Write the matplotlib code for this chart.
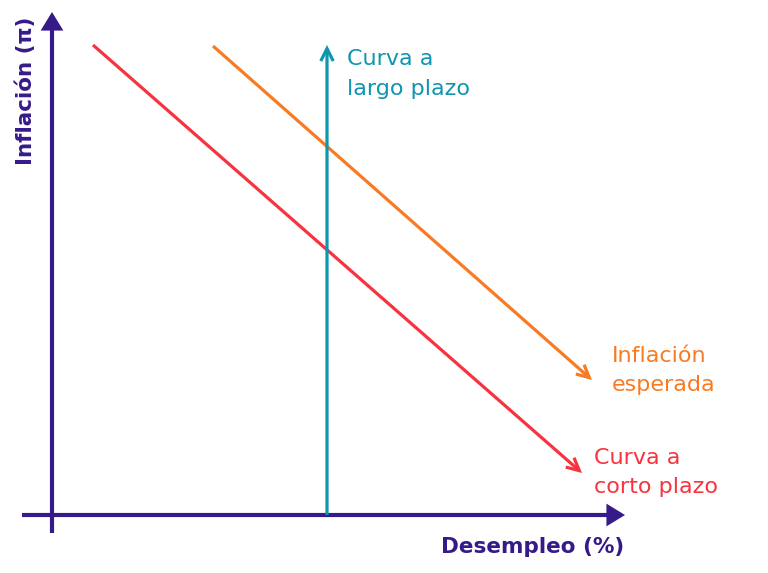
import matplotlib.pyplot as plt

# coordinates in chart units (1 unit ~ 10 px), origin where the two axes cross
short_run_x = [4.1, 53.0]
short_run_y = [47.0, 4.2]
expected_x = [16.1, 54.0]
expected_y = [46.9, 13.5]
long_run_x = [27.5, 27.5]
long_run_y = [0.0, 47.0]

labels = {
    'long': 'Curva a\nlargo plazo',
    'expected': 'Inflación\nesperada',
    'short': 'Curva a\ncorto plazo',
}
xlabel = 'Desempleo (%)'
ylabel = 'Inflación (π)'

PURPLE = '#361a8a'
RED = '#f6333f'
ORANGE = '#f87b23'
TEAL = '#0e96b0'

plt.rcParams['font.family'] = ['DejaVu Sans']

fig = plt.figure(figsize=(7.68, 5.73), dpi=100)
ax = fig.add_axes([0, 0, 1, 1])
ax.set_xlim(-5.2, 71.6)
ax.set_ylim(-5.8, 51.5)
ax.axis('off')


def arrow(xs, ys, color, style, lw):
    ax.annotate('', xy=(xs[1], ys[1]), xytext=(xs[0], ys[0]),
                arrowprops=dict(arrowstyle=style, color=color, lw=lw,
                                shrinkA=0, shrinkB=0, mutation_scale=10,
                                capstyle='butt', joinstyle='miter'))


# axes
arrow([0, 0], [-1.8, 50.3], PURPLE, '-|>,head_length=0.9,head_width=0.55', 3)
arrow([-3.0, 57.3], [0, 0], PURPLE, '-|>,head_length=0.9,head_width=0.55', 3)

# curves
arrow(short_run_x, short_run_y, RED, '->,head_length=0.9,head_width=0.45', 2.3)
arrow(expected_x, expected_y, ORANGE, '->,head_length=0.9,head_width=0.45', 2.3)
arrow(long_run_x, long_run_y, TEAL, '->,head_length=0.9,head_width=0.45', 2.3)

ax.text(29.5, 44.1, labels['long'], color=TEAL, fontsize=16,
        va='center', ha='left', linespacing=1.6)
ax.text(56.0, 14.45, labels['expected'], color=ORANGE, fontsize=16,
        va='center', ha='left', linespacing=1.6)
ax.text(54.2, 4.25, labels['short'], color=RED, fontsize=16,
        va='center', ha='left', linespacing=1.6)

ax.text(48.1, -3.2, xlabel, color=PURPLE, fontsize=15.5, fontweight='bold',
        ha='center', va='center')
ax.text(-2.6, 42.4, ylabel, color=PURPLE, fontsize=15.5, fontweight='bold',
        ha='center', va='center', rotation=90)

fig.savefig('out.png', dpi=100, facecolor='white')
